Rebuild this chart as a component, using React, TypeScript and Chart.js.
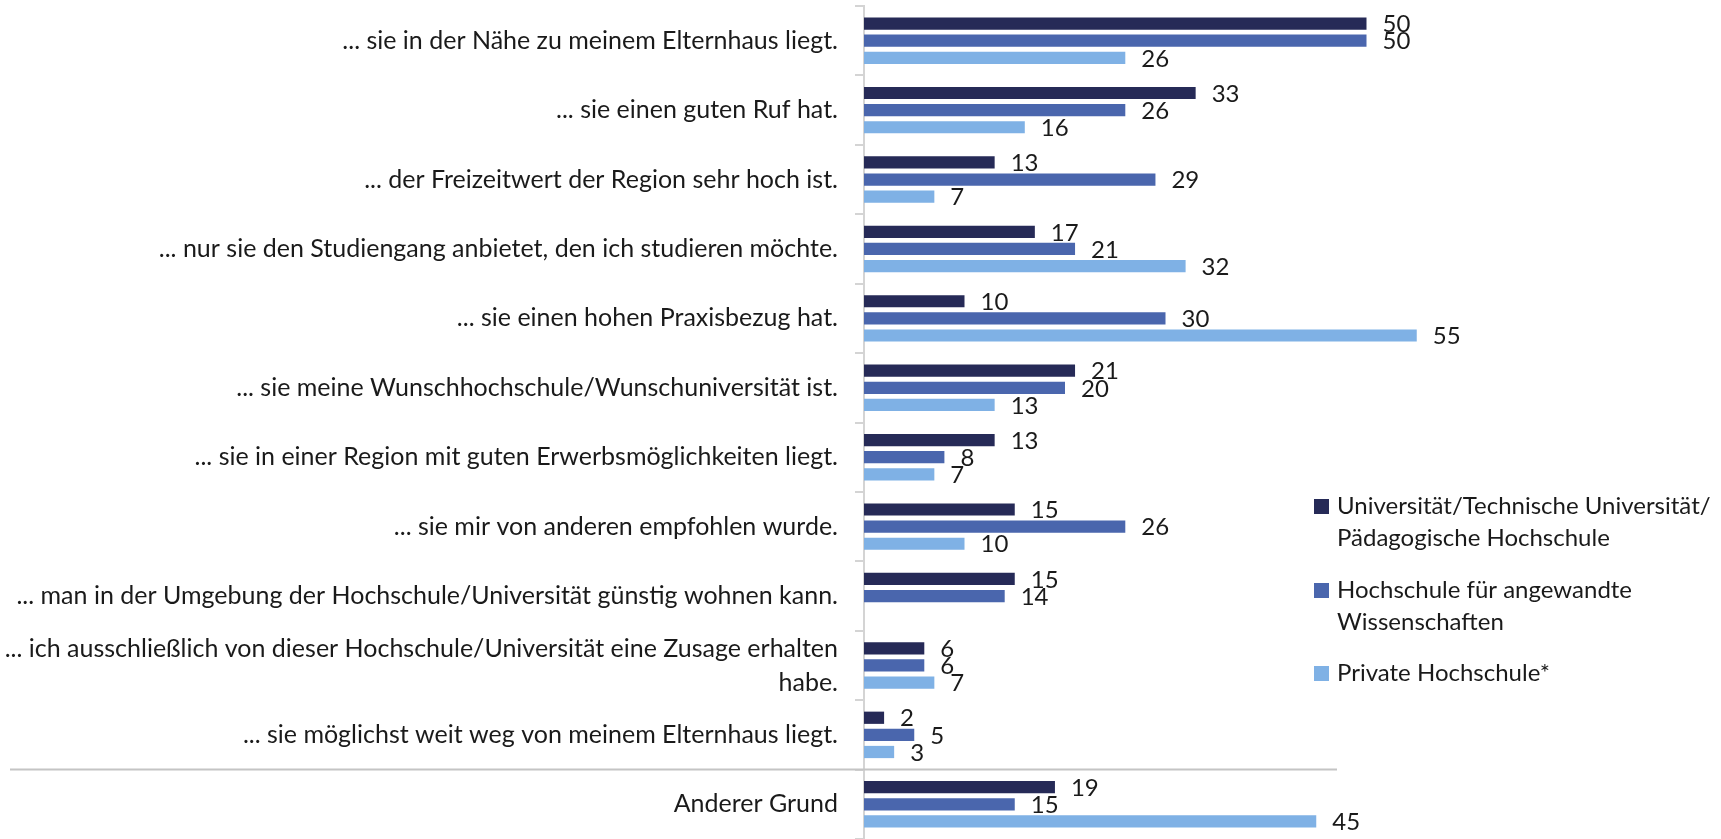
import React, { useEffect, useRef } from "react";
import { Chart, registerables } from "chart.js";

Chart.register(...registerables);

const categories: (string | string[])[] = [
  "... sie in der Nähe zu meinem Elternhaus liegt.",
  "... sie einen guten Ruf hat.",
  "... der Freizeitwert der Region sehr hoch ist.",
  "... nur sie den Studiengang anbietet, den ich studieren möchte.",
  "... sie einen hohen Praxisbezug hat.",
  "... sie meine Wunschhochschule/Wunschuniversität ist.",
  "... sie in einer Region mit guten Erwerbsmöglichkeiten liegt.",
  "... sie mir von anderen empfohlen wurde.",
  "... man in der Umgebung der Hochschule/Universität günstig wohnen kann.",
  ["... ich ausschließlich von dieser Hochschule/Universität eine Zusage erhalten", "habe."],
  "... sie möglichst weit weg von meinem Elternhaus liegt.",
  "Anderer Grund",
];

const seriesNames = [
  "Universität/Technische Universität/ Pädagogische Hochschule",
  "Hochschule für angewandte Wissenschaften",
  "Private Hochschule*",
];

const legendLines: string[][] = [
  ["Universität/Technische Universität/", "Pädagogische Hochschule"],
  ["Hochschule für angewandte", "Wissenschaften"],
  ["Private Hochschule*"],
];

const uniValues: (number | null)[] = [50, 33, 13, 17, 10, 21, 13, 15, 15, 6, 2, 19];
const hawValues: (number | null)[] = [50, 26, 29, 21, 30, 20, 8, 26, 14, 6, 5, 15];
const privValues: (number | null)[] = [26, 16, 7, 32, 55, 13, 7, 10, null, 7, 3, 45];

const colors = ["#262A57", "#4A66AD", "#7FB1E5"];

const FONT = "Lato, 'Open Sans', sans-serif";
const TEXT_COLOR = "#1a1a1a";

const dataLabelPlugin = {
  id: "dataLabels",
  afterDatasetsDraw(chart: any) {
    const ctx = chart.ctx;
    ctx.save();
    ctx.font = `24px ${FONT}`;
    ctx.fillStyle = TEXT_COLOR;
    ctx.textAlign = "left";
    ctx.textBaseline = "middle";
    chart.data.datasets.forEach((ds: any, di: number) => {
      const meta = chart.getDatasetMeta(di);
      meta.data.forEach((bar: any, i: number) => {
        const v = ds.data[i];
        if (v === null || v === undefined) return;
        ctx.fillText(String(v), bar.x + 16, bar.y + 1);
      });
    });
    ctx.restore();
  },
};

const separatorPlugin = {
  id: "separator",
  afterDraw(chart: any) {
    const y = chart.scales.y;
    const n = categories.length;
    const yy = (y.getPixelForValue(n - 2) + y.getPixelForValue(n - 1)) / 2;
    const ctx = chart.ctx;
    ctx.save();
    ctx.strokeStyle = "#c4c4c4";
    ctx.lineWidth = 2;
    ctx.beginPath();
    ctx.moveTo(10, yy);
    ctx.lineTo(1337, yy);
    ctx.stroke();
    ctx.restore();
  },
};

const legendPlugin = {
  id: "customLegend",
  afterDraw(chart: any) {
    const ctx = chart.ctx;
    ctx.save();
    ctx.font = `24px ${FONT}`;
    ctx.textBaseline = "middle";
    ctx.textAlign = "left";
    const boxX = 1314;
    const textX = 1337;
    const starts = [506, 590, 673];
    legendLines.forEach((lines, i) => {
      const y0 = starts[i];
      ctx.fillStyle = colors[i];
      ctx.fillRect(boxX, y0 - 7, 15, 15);
      ctx.fillStyle = TEXT_COLOR;
      lines.forEach((t, li) => ctx.fillText(t, textX, y0 + li * 32));
    });
    ctx.restore();
  },
};

export default function App() {
  const ref = useRef<HTMLCanvasElement | null>(null);
  useEffect(() => {
    document.body.style.margin = "0";
    if (!ref.current) return;
    const chart = new Chart(ref.current, {
      type: "bar",
      data: {
        labels: categories,
        datasets: [uniValues, hawValues, privValues].map((d, i) => ({
          label: seriesNames[i],
          data: d,
          backgroundColor: colors[i],
          borderWidth: 0,
          categoryPercentage: 0.74,
          barPercentage: 0.715,
        })),
      },
      options: {
        indexAxis: "y",
        animation: false,
        responsive: false,
        layout: { padding: { top: 6, bottom: -4, left: 0, right: 254 } },
        plugins: {
          legend: { display: false },
          tooltip: { enabled: false },
        },
        scales: {
          x: { display: false, min: 0, max: 60 },
          y: {
            afterFit: (s: any) => {
              s.width = 864;
              s.paddingTop = 0;
              s.paddingBottom = 0;
            },
            border: { display: true, color: "#d4d4d4", width: 2 },
            grid: {
              display: true,
              offset: true,
              drawOnChartArea: false,
              drawTicks: true,
              tickLength: 9,
              color: "#d4d4d4",
              lineWidth: 2,
            },
            ticks: {
              padding: 17,
              color: TEXT_COLOR,
              font: { family: FONT, size: 25, lineHeight: 1.36 },
              autoSkip: false,
            },
          },
        },
      },
      plugins: [dataLabelPlugin, separatorPlugin, legendPlugin],
    } as any);
    return () => chart.destroy();
  }, []);
  return (
    <div style={{ width: 1721, height: 839, position: "relative" }}>
      <canvas ref={ref} width={1721} height={839} />
    </div>
  );
}
